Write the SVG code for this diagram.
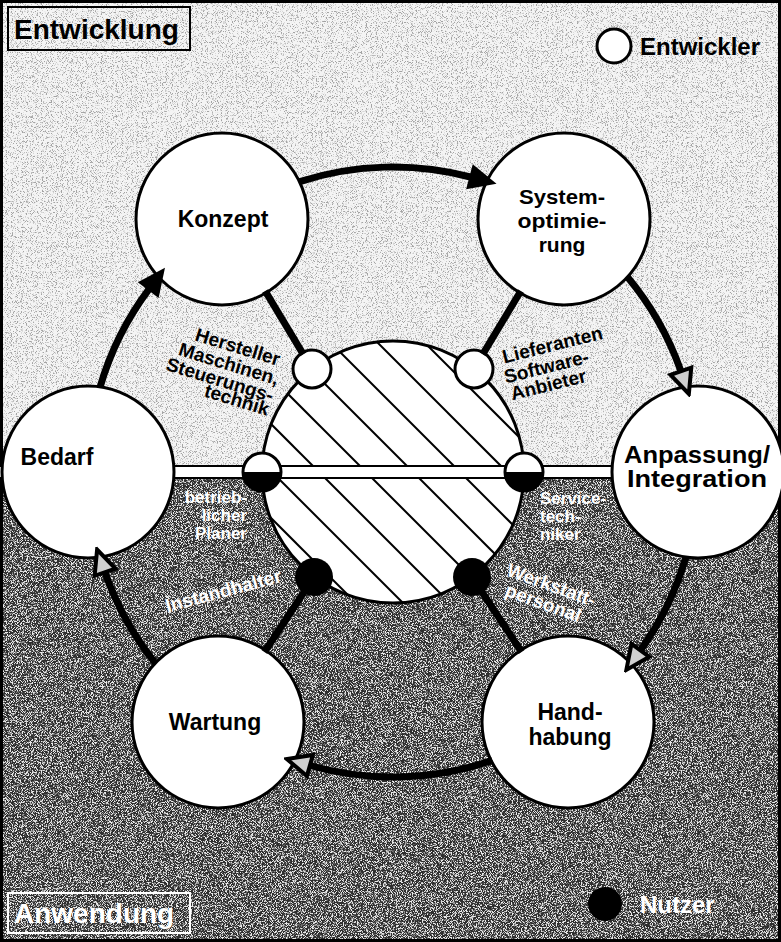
<svg xmlns="http://www.w3.org/2000/svg" width="781" height="942" viewBox="0 0 781 942">
<defs>
<style>
text{font-family:"Liberation Sans",Arial,Helvetica,sans-serif;font-weight:bold}
.nc{fill:#fff;stroke:#000;stroke-width:3}
.nl{font-size:23px;text-anchor:middle;fill:#000}
.ns{font-size:21px;text-anchor:middle;fill:#000}
.cl{font-size:19px;text-anchor:middle;fill:#000}
.wl{font-size:17px;fill:#fff}
.wr{font-size:19px;fill:#fff;text-anchor:middle}
.arrow{fill:none;stroke:#000;stroke-width:7}
.spoke{stroke:#000;stroke-width:7}
.hatch line{stroke:#000;stroke-width:2}
.leg{font-size:24px}
.box{font-size:28px}
</style>
<marker id="ahS" markerUnits="userSpaceOnUse" viewBox="0 0 30 30" markerWidth="30" markerHeight="30" refX="2" refY="15" orient="auto">
<path d="M1,2 L29,15 L1,28 Z" fill="#000"/>
</marker>
<marker id="ahH" markerUnits="userSpaceOnUse" viewBox="0 0 30 30" markerWidth="30" markerHeight="30" refX="3" refY="15" orient="auto">
<path d="M3,4 L27,15 L3,26 Z" fill="#d0d0d0" stroke="#000" stroke-width="4"/>
</marker>
<clipPath id="bigc"><circle cx="393" cy="472" r="131"/></clipPath>
<filter id="spD" x="0" y="0" width="100%" height="100%" color-interpolation-filters="sRGB">
<feTurbulence type="fractalNoise" baseFrequency="1.2" numOctaves="1" seed="4"/>
<feColorMatrix type="matrix" values="0 0 0 0 0  0 0 0 0 0  0 0 0 0 0  7 0 0 0 -3.7"/>
</filter>
<filter id="spL" x="0" y="0" width="100%" height="100%" color-interpolation-filters="sRGB">
<feTurbulence type="fractalNoise" baseFrequency="1.2" numOctaves="1" seed="9"/>
<feColorMatrix type="matrix" values="0 0 0 0 1  0 0 0 0 1  0 0 0 0 1  7 0 0 0 -3.3"/>
</filter>
</defs>

<g id="background">
<rect x="0" y="0" width="781" height="472" fill="#f4f4f4"/>
<rect x="0" y="0" width="781" height="472" filter="url(#spD)" opacity="0.32"/>
<rect x="0" y="472" width="781" height="470" fill="#2e2e2e"/>
<rect x="0" y="472" width="781" height="470" filter="url(#spL)" opacity="0.9"/>
<rect x="1.5" y="1.5" width="778" height="939" fill="none" stroke="#000" stroke-width="3"/>
</g>

<g id="area-labels">
<rect x="8" y="7" width="182" height="43" fill="none" stroke="#000" stroke-width="2"/>
<text class="box" x="14" y="39" fill="#000">Entwicklung</text>
<rect x="8" y="893" width="182" height="40" fill="none" stroke="#fff" stroke-width="2"/>
<text class="box" x="14" y="923" fill="#fff">Anwendung</text>
</g>

<g id="legend">
<circle cx="614" cy="46" r="17" fill="#fff" stroke="#000" stroke-width="3"/>
<text class="leg" x="640" y="55" fill="#000">Entwickler</text>
<circle cx="605" cy="904" r="17" fill="#000"/>
<text class="leg" x="640" y="913" fill="#fff">Nutzer</text>
</g>

<g id="center">
<circle cx="393" cy="472" r="131" fill="#fff"/>
<g clip-path="url(#bigc)" class="hatch">
<line x1="250" y1="497" x2="540" y2="787"/>
<line x1="250" y1="450" x2="540" y2="740"/>
<line x1="250" y1="403" x2="540" y2="693"/>
<line x1="250" y1="356" x2="540" y2="646"/>
<line x1="250" y1="309" x2="540" y2="599"/>
<line x1="250" y1="262" x2="540" y2="552"/>
<line x1="250" y1="215" x2="540" y2="505"/>
<line x1="250" y1="168" x2="540" y2="458"/>
</g>
<circle cx="393" cy="472" r="131" fill="none" stroke="#000" stroke-width="3"/>
</g>

<g id="bar">
<rect x="-3" y="466" width="787" height="12" fill="#fff" stroke="#000" stroke-width="2"/>
</g>

<g id="role-hersteller"><circle cx="312" cy="369" r="19" fill="#fff" stroke="#000" stroke-width="3"/></g>
<g id="role-lieferanten"><circle cx="474" cy="369" r="19" fill="#fff" stroke="#000" stroke-width="3"/></g>
<g id="role-planer"><circle cx="262" cy="472" r="19" fill="#fff" stroke="#000" stroke-width="3"/><path d="M243,472 A19,19 0 0 0 281,472 Z" fill="#000"/></g>
<g id="role-service"><circle cx="524" cy="472" r="19" fill="#fff" stroke="#000" stroke-width="3"/><path d="M505,472 A19,19 0 0 0 543,472 Z" fill="#000"/></g>
<g id="role-instandhalter"><circle cx="314" cy="577" r="19" fill="#000"/></g>
<g id="role-werkstatt"><circle cx="472" cy="577" r="19" fill="#000"/></g>

<g id="node-konzept"><circle class="nc" cx="222" cy="219" r="86"/><text class="nl" x="223" y="227">Konzept</text></g>
<g id="node-systemoptimierung"><circle class="nc" cx="564" cy="219" r="86"/>
<text class="ns" x="562" y="204" textLength="86" lengthAdjust="spacingAndGlyphs">System-</text><text class="ns" x="562" y="228" textLength="89" lengthAdjust="spacingAndGlyphs">optimie-</text><text class="ns" x="562" y="252">rung</text></g>
<g id="node-anpassung"><circle class="nc" cx="698" cy="472" r="86"/>
<text class="nl" x="697" y="463" textLength="146" lengthAdjust="spacingAndGlyphs">Anpassung/</text><text class="nl" x="697" y="487" textLength="140" lengthAdjust="spacingAndGlyphs">Integration</text></g>
<g id="node-handhabung"><circle class="nc" cx="568" cy="722" r="86"/>
<text class="nl" x="570" y="720">Hand-</text><text class="nl" x="570" y="745">habung</text></g>
<g id="node-wartung"><circle class="nc" cx="218" cy="722" r="86"/><text class="nl" x="215" y="730">Wartung</text></g>
<g id="node-bedarf"><circle class="nc" cx="88" cy="472" r="86"/><text class="nl" x="57" y="465">Bedarf</text></g>

<g id="connectors">
<line class="spoke" x1="265.2" y1="291" x2="303.3" y2="354.4"/>
<line class="spoke" x1="520.8" y1="291" x2="482.7" y2="354.4"/>
<line class="spoke" x1="264.4" y1="652" x2="304.6" y2="591.2"/>
<line class="spoke" x1="521.6" y1="652" x2="481.4" y2="591.2"/>
<path class="arrow" d="M299.8,181.6 A305,305 0 0 1 470.4,177" marker-end="url(#ahS)"/>
<path class="arrow" d="M627.3,276.8 A305,305 0 0 1 680.9,371.2" marker-end="url(#ahH)"/>
<path class="arrow" d="M685.9,557.1 A305,305 0 0 1 640.4,650.4" marker-end="url(#ahH)"/>
<path class="arrow" d="M492.3,760.4 A305,305 0 0 1 309.9,765.5" marker-end="url(#ahH)"/>
<path class="arrow" d="M155.3,663.1 A305,305 0 0 1 105,572.3" marker-end="url(#ahH)"/>
<path class="arrow" d="M100.1,386.9 A305,305 0 0 1 148.8,289.3" marker-end="url(#ahS)"/>
</g>

<g id="role-labels">
<text class="cl" transform="translate(236 353) rotate(17)">Hersteller</text>
<text class="cl" transform="translate(227 370) rotate(17)">Maschinen,</text>
<text class="cl" transform="translate(218 386) rotate(17)">Steuerungs-</text>
<text class="cl" transform="translate(235 406) rotate(17)">technik</text>
<text class="cl" transform="translate(554 351) rotate(-14)">Lieferanten</text>
<text class="cl" transform="translate(548 373) rotate(-14)">Software-</text>
<text class="cl" transform="translate(550 391) rotate(-14)">Anbieter</text>
<text class="wl" x="247" y="503" text-anchor="end">betrieb-</text>
<text class="wl" x="247" y="521" text-anchor="end">licher</text>
<text class="wl" x="247" y="539" text-anchor="end">Planer</text>
<text class="wl" x="540" y="504">Service-</text>
<text class="wl" x="540" y="522">tech-</text>
<text class="wl" x="540" y="540">niker</text>
<text class="wr" transform="translate(225 597) rotate(-15)">Instandhalter</text>
<text class="wr" transform="translate(549 591) rotate(20)">Werkstatt-</text>
<text class="wr" transform="translate(541 609) rotate(20)">personal</text>
</g>
</svg>
